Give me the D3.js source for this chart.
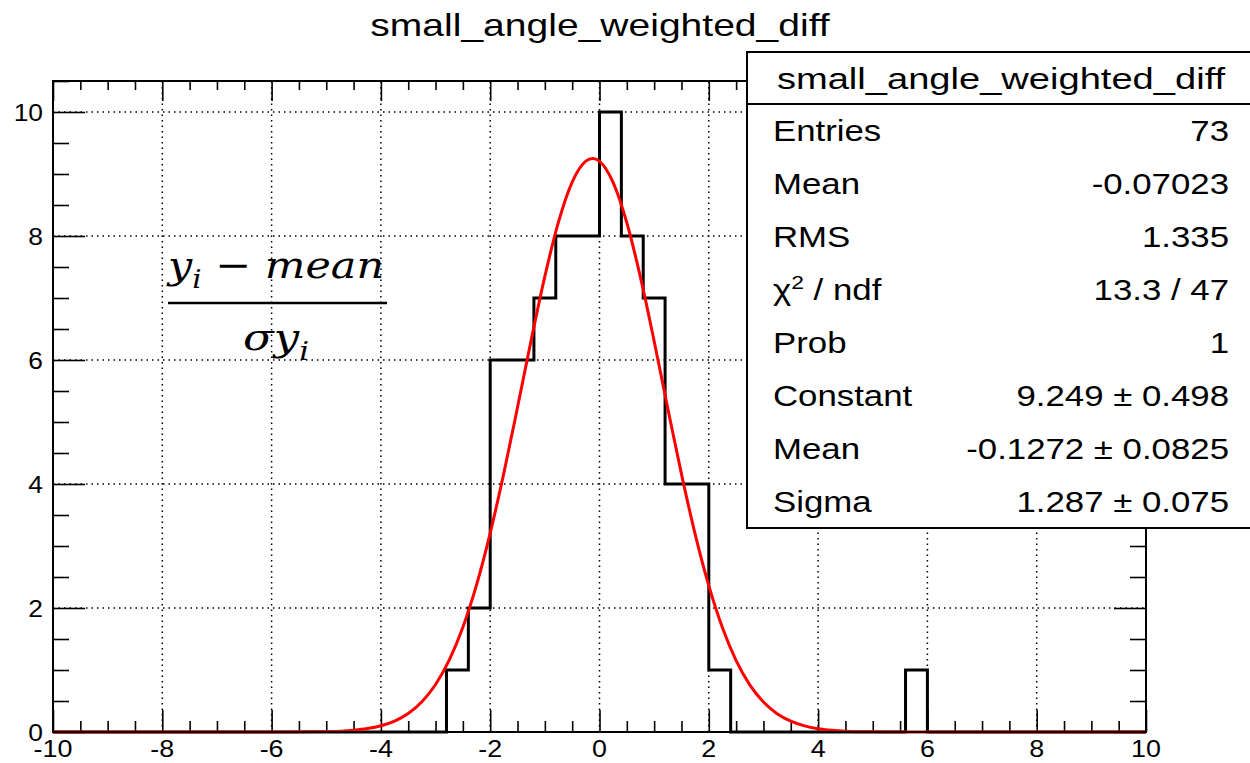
<!DOCTYPE html>
<html>
<head>
<meta charset="utf-8">
<script src="https://cdn.jsdelivr.net/npm/d3@7"></script>
<style>
  html, body { margin: 0; padding: 0; background: #fff; }
  svg { display: block; }
</style>
</head>
<body>
<svg id="chart" width="1250" height="763"></svg>
<script>
// ---------------- data ----------------
const chartTitle = "small_angle_weighted_diff";
const xDomain = [-10, 10];
const yDomain = [0, 10.5];
const binWidth = 0.4;
// 50 bins from -10 to 10 (width 0.4)
const binCounts = [
  0,0,0,0,0,0,0,0,0,0,
  0,0,0,0,0,0,0,0,1,2,
  6,6,7,8,8,10,8,7,4,4,
  1,0,0,0,0,0,0,0,0,1,
  0,0,0,0,0,0,0,0,0,0
];
// fitted gaussian curve
const fitX = [-10,-6,-5,-4.5,-4.25,-4,-3.75,-3.5,-3.25,-3,-2.75,-2.5,-2.25,-2,-1.75,-1.5,-1.25,-1,-0.75,-0.5,-0.25,-0.125,0,0.25,0.5,0.75,1,1.25,1.5,1.75,2,2.25,2.5,2.75,3,3.25,3.5,3.75,4,4.25,4.5,5,6,10];
const fitY = [0,0,0.007,0.029,0.055,0.100,0.176,0.298,0.487,0.766,1.159,1.690,2.373,3.209,4.177,5.237,6.322,7.348,8.227,8.869,9.207,9.249,9.204,8.861,8.214,7.332,6.303,5.218,4.159,3.192,2.360,1.680,1.151,0.760,0.483,0.296,0.174,0.099,0.054,0.029,0.014,0.004,0,0];
const xMajorTicks = [-10,-8,-6,-4,-2,0,2,4,6,8,10];
const yMajorTicks = [0,2,4,6,8,10];
const statsTitle = "small_angle_weighted_diff";
const statsLabels = ["Entries","Mean","RMS","χ2 / ndf","Prob","Constant","Mean","Sigma"];
const statsValues = ["73","-0.07023","1.335","13.3 / 47","1","9.249 ± 0.498","-0.1272 ± 0.0825","1.287 ± 0.075"];

// ---------------- layout ----------------
const SANS = "'Liberation Sans', Arial, Helvetica, sans-serif";
const SERIF = "'DejaVu Serif', 'Liberation Serif', serif";
const svg = d3.select("#chart");
const L = 53, R = 1146, T = 81, B = 732;
const x = d3.scaleLinear().domain(xDomain).range([L, R]);
const y = d3.scaleLinear().domain(yDomain).range([B, T]);
const SX = 1.2; // horizontal stretch of text in the reference

function stext(g, tx, ty, str, size, anchor, sx) {
  return g.append("text")
    .attr("transform", `translate(${tx},${ty}) scale(${sx || SX},1)`)
    .style("font-family", SANS)
    .attr("fill", "#000")
    .attr("font-size", size)
    .attr("text-anchor", anchor || "start")
    .text(str);
}

// grid
const grid = svg.append("g").attr("stroke", "#000").attr("stroke-width", 1.5).attr("stroke-dasharray", "1.5,4");
xMajorTicks.filter(v => v > xDomain[0] && v < xDomain[1]).forEach(v => {
  grid.append("line").attr("x1", x(v)).attr("x2", x(v)).attr("y1", B).attr("y2", T);
});
yMajorTicks.filter(v => v > yDomain[0]).forEach(v => {
  grid.append("line").attr("x1", L).attr("x2", R).attr("y1", y(v)).attr("y2", y(v));
});

// axes via d3 axis generators (ticks drawn inward)
const xMinor = d3.range(-10, 10.001, 0.5).filter(v => !xMajorTicks.includes(v));
const yMinor = d3.range(0, 10.501, 0.5).filter(v => !yMajorTicks.includes(v));
function styleAxis(g) {
  g.select(".domain").remove();
  g.selectAll(".tick line").attr("stroke", "#000").attr("stroke-width", 1.6);
  g.selectAll(".tick text").remove();
}
// bottom
svg.append("g").attr("transform", `translate(0,${B})`)
  .call(d3.axisTop(x).tickValues(xMajorTicks).tickSize(22)).call(styleAxis);
svg.append("g").attr("transform", `translate(0,${B})`)
  .call(d3.axisTop(x).tickValues(xMinor).tickSize(11)).call(styleAxis);
// top
svg.append("g").attr("transform", `translate(0,${T})`)
  .call(d3.axisBottom(x).tickValues(xMajorTicks).tickSize(20)).call(styleAxis);
svg.append("g").attr("transform", `translate(0,${T})`)
  .call(d3.axisBottom(x).tickValues(xMinor).tickSize(9)).call(styleAxis);
// left
svg.append("g").attr("transform", `translate(${L},0)`)
  .call(d3.axisRight(y).tickValues(yMajorTicks).tickSize(32)).call(styleAxis);
svg.append("g").attr("transform", `translate(${L},0)`)
  .call(d3.axisRight(y).tickValues(yMinor).tickSize(16)).call(styleAxis);
// right
svg.append("g").attr("transform", `translate(${R},0)`)
  .call(d3.axisLeft(y).tickValues(yMajorTicks).tickSize(32)).call(styleAxis);
svg.append("g").attr("transform", `translate(${R},0)`)
  .call(d3.axisLeft(y).tickValues(yMinor).tickSize(16)).call(styleAxis);

// tick labels
const lab = svg.append("g");
xMajorTicks.forEach(v => {
  stext(lab, x(v), 757, String(v), 24, "middle", 1.12);
});
yMajorTicks.forEach(v => {
  stext(lab, 43, y(v) + 9, String(v), 24, "end", 1.1);
});

// histogram step path
const histPts = [[xDomain[0], 0]];
binCounts.forEach((c, i) => {
  const lo = xDomain[0] + i * binWidth, hi = lo + binWidth;
  histPts.push([lo, c], [hi, c]);
});
histPts.push([xDomain[1], 0]);
svg.append("path")
  .attr("d", d3.line().x(d => x(d[0])).y(d => y(d[1]))(histPts))
  .attr("fill", "none").attr("stroke", "#000").attr("stroke-width", 3)
  .attr("stroke-linejoin", "miter");

// fit curve
svg.append("clipPath").attr("id", "clip").append("rect")
  .attr("x", L).attr("y", T).attr("width", R - L).attr("height", B - T + 2);
svg.append("path")
  .attr("clip-path", "url(#clip)")
  .attr("d", d3.line().x((d, i) => x(fitX[i])).y(d => y(Math.max(0, d))).curve(d3.curveMonotoneX)(fitY))
  .attr("fill", "none").attr("stroke", "#ff0000").attr("stroke-width", 3);

// frame
svg.append("rect").attr("x", L).attr("y", T).attr("width", R - L).attr("height", B - T)
  .attr("fill", "none").attr("stroke", "#000").attr("stroke-width", 2);

// title
stext(svg, 600, 36, chartTitle, 32, "middle", 1.22);

// formula
const fm = svg.append("g");
const num = fm.append("text").attr("x", 168).attr("y", 278)
  .style("font-family", SERIF).attr("font-size", 38).attr("fill", "#000")
  .attr("textLength", 216).attr("lengthAdjust", "spacingAndGlyphs");
num.append("tspan").style("font-style", "italic").text("y");
num.append("tspan").style("font-style", "italic").attr("font-size", 26).attr("dy", 10).text("i");
num.append("tspan").style("font-style", "normal").attr("dy", -10).text(" − ");
num.append("tspan").style("font-style", "italic").text("mean");
fm.append("line").attr("x1", 168).attr("x2", 387).attr("y1", 303).attr("y2", 303)
  .attr("stroke", "#000").attr("stroke-width", 2.5);
const den = fm.append("text").attr("x", 243).attr("y", 350)
  .style("font-family", SERIF).attr("font-size", 38).attr("fill", "#000")
  .attr("textLength", 66).attr("lengthAdjust", "spacingAndGlyphs");
den.append("tspan").style("font-style", "italic").text("σy");
den.append("tspan").style("font-style", "italic").attr("font-size", 26).attr("dy", 10).text("i");

// stats box
const sb = svg.append("g");
sb.append("rect").attr("x", 747).attr("y", 52).attr("width", 510).attr("height", 476)
  .attr("fill", "#fff").attr("stroke", "#000").attr("stroke-width", 2);
sb.append("line").attr("x1", 747).attr("x2", 1252).attr("y1", 104).attr("y2", 104)
  .attr("stroke", "#000").attr("stroke-width", 2);
stext(sb, 1001, 89, statsTitle, 30, "middle", 1.27);
statsLabels.forEach((s, i) => {
  const by = 141 + i * 53;
  if (s.startsWith("χ2")) {
    const t = sb.append("text").attr("transform", `translate(773,${by}) scale(${SX},1)`)
      .style("font-family", SANS).attr("font-size", 29).attr("fill", "#000");
    t.append("tspan").text("χ");
    t.append("tspan").attr("font-size", 19).attr("dy", -11).text("2");
    t.append("tspan").attr("dy", 11).text(" / ndf");
  } else {
    stext(sb, 773, by, s, 29, "start");
  }
  stext(sb, 1229, by, statsValues[i], 29, "end");
});
</script>
</body>
</html>
